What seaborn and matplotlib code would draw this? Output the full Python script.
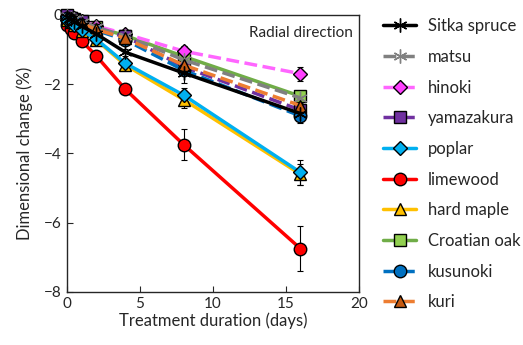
import matplotlib
matplotlib.use("Agg")
import matplotlib.pyplot as plt
import pandas as pd
import numpy as np
import seaborn as sns

days = [0, 0.25, 0.5, 1, 2, 4, 8, 16]

species = ["Sitka spruce", "matsu", "hinoki", "yamazakura", "poplar",
           "limewood", "hard maple", "Croatian oak", "kusunoki", "kuri"]

sitka = [-0.05, -0.12, -0.2, -0.33, -0.55, -1.08, -1.68, -2.85]
matsu = [-0.03, -0.08, -0.12, -0.2, -0.35, -0.62, -1.3, -2.4]
hinoki = [-0.02, -0.06, -0.1, -0.18, -0.32, -0.55, -1.05, -1.7]
yamazakura = [0.0, -0.1, -0.14, -0.17, -0.45, -0.62, -1.5, -2.75]
poplar = [-0.15, -0.22, -0.3, -0.45, -0.7, -1.4, -2.32, -4.55]
limewood = [-0.3, -0.4, -0.52, -0.75, -1.18, -2.15, -3.75, -6.75]
hard_maple = [-0.15, -0.22, -0.3, -0.47, -0.72, -1.45, -2.45, -4.6]
croatian_oak = [-0.03, -0.08, -0.12, -0.2, -0.35, -0.6, -1.2, -2.35]
kusunoki = [-0.08, -0.12, -0.18, -0.28, -0.45, -0.72, -1.6, -2.92]
kuri = [-0.05, -0.1, -0.15, -0.25, -0.42, -0.68, -1.45, -2.62]

sitka_sd = [0, 0, 0, 0, 0.05, 0.1, 0.3, 0.2]
matsu_sd = [0, 0, 0, 0, 0.05, 0.08, 0.15, 0.15]
hinoki_sd = [0, 0, 0, 0, 0.05, 0.08, 0.15, 0.2]
yamazakura_sd = [0, 0, 0, 0, 0.05, 0.08, 0.12, 0.15]
poplar_sd = [0, 0, 0, 0, 0.05, 0.1, 0.2, 0.35]
limewood_sd = [0, 0, 0, 0.05, 0.08, 0.1, 0.45, 0.65]
hard_maple_sd = [0, 0, 0, 0, 0.05, 0.1, 0.25, 0.3]
croatian_oak_sd = [0, 0, 0, 0, 0.05, 0.08, 0.12, 0.15]
kusunoki_sd = [0, 0, 0, 0, 0.05, 0.08, 0.12, 0.2]
kuri_sd = [0, 0, 0, 0, 0.05, 0.08, 0.12, 0.2]

values = [sitka, matsu, hinoki, yamazakura, poplar, limewood, hard_maple,
          croatian_oak, kusunoki, kuri]
errors = [sitka_sd, matsu_sd, hinoki_sd, yamazakura_sd, poplar_sd, limewood_sd,
          hard_maple_sd, croatian_oak_sd, kusunoki_sd, kuri_sd]

line_colors = ["#000000", "#808080", "#FF66FF", "#7030A0", "#00B0F0",
               "#FF0000", "#FFC000", "#70AD47", "#0070C0", "#ED7D31"]
face_colors = ["#000000", "#A0A0A0", "#FF40FF", "#7030A0", "#00B0F0",
               "#FF0000", "#FFC000", "#92D050", "#0070C0", "#C55A11"]
markers = [(6, 2, 0), (6, 2, 0), "D", "s", "D", "o", "^", "s", "o", "^"]
marker_sizes = [10, 10, 7, 9, 7, 9, 8, 8, 9, 8]
line_styles = ["-", "--", "--", "--", "-", "-", "-", "-", "--", "--"]
# drawing order: poplar above hard maple, etc.
z_orders = [3.9, 3.5, 3.3, 3.4, 3.8, 3.6, 3.7, 3.2, 3.45, 3.55]

sns.set_style("ticks")
plt.rcParams["font.family"] = ["Lato", "DejaVu Sans"]

fig = plt.figure(figsize=(5.23, 3.45), dpi=100)
ax = fig.add_axes([0.128, 0.154, 0.558, 0.803])

for i, name in enumerate(species):
    df = pd.DataFrame({"day": days, "change": values[i]})
    mec = line_colors[i] if i < 2 else "black"
    sns.lineplot(data=df, x="day", y="change", ax=ax, color=line_colors[i],
                 linestyle=line_styles[i], linewidth=2.5,
                 marker=markers[i], markersize=marker_sizes[i],
                 markerfacecolor=face_colors[i], markeredgecolor=mec,
                 markeredgewidth=1.0, label=name, clip_on=False,
                 zorder=z_orders[i])
    ax.errorbar(days, values[i], yerr=errors[i], fmt="none", ecolor="black",
                elinewidth=0.8, capsize=2, capthick=0.8, zorder=2)

ax.set_xlim(0, 20)
ax.set_ylim(-8, 0)
ax.set_xticks([0, 5, 10, 15, 20])
ax.set_yticks([0, -2, -4, -6, -8])
ax.tick_params(direction="in", labelsize=11, length=4, width=0.8)
for s in ax.spines.values():
    s.set_linewidth(1.0)
    s.set_visible(True)
ax.set_xlabel("Treatment duration (days)", fontsize=12, labelpad=1)
ax.set_ylabel("Dimensional change (%)", fontsize=12, labelpad=8)
ax.text(0.98, 0.96, "Radial direction", transform=ax.transAxes,
        ha="right", va="top", fontsize=11)

ax.legend(loc="upper left", bbox_to_anchor=(1.072, 1.0), frameon=False,
          fontsize=12, labelspacing=0.88, handlelength=2.0,
          handletextpad=0.7, borderaxespad=0, borderpad=0.2)

fig.savefig("out.png", dpi=100)
